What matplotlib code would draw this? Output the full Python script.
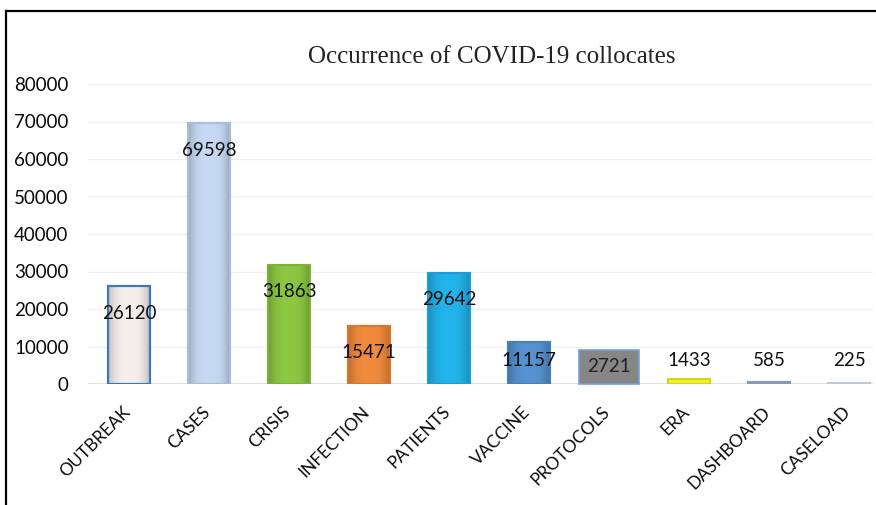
import matplotlib
matplotlib.use("Agg")
import matplotlib.pyplot as plt
from matplotlib.lines import Line2D
import matplotlib.transforms as mtransforms
import numpy as np

# DATA
categories = ["OUTBREAK", "CASES", "CRISIS", "INFECTION", "PATIENTS",
              "VACCINE", "PROTOCOLS", "ERA", "DASHBOARD", "CASELOAD"]
counts = [26120, 69598, 31863, 15471, 29642, 11157, 2721, 1433, 585, 225]
yticks = [0, 10000, 20000, 30000, 40000, 50000, 60000, 70000, 80000]
title = "Occurrence of COVID-19 collocates"

fill_colors = ["#f3efec", "#c5daf2", "#8dc641", "#f08a3c", "#22b3ea",
               "#5592cf", "#808080", "#f2f22a", "#93a7be", "#c0c8d6"]
edge_colors = ["#3c78c0", "#a9bdd6", "#7fb13a", "#d9772e", "#1b9fd3",
               "#4a80b8", "#707070", "#d6d41c", "#8799b0", "#c0c8d6"]

plt.rcParams['font.family'] = ['Lato', 'DejaVu Sans']

fig = plt.figure(figsize=(8.76, 5.05), dpi=100)
ax = fig.add_axes([88/876, 121/505, 785/876, 300/505])

x = list(range(len(categories)))
bars = ax.bar(x, counts, width=0.52, color=fill_colors, edgecolor=edge_colors,
              linewidth=1.5, zorder=3)

# soft bevel shading on the bars (lighter middle, darker sides)
prof = np.linspace(-1, 1, 64)
shade = np.zeros((1, 64, 4))
shade[0, :, 3] = 0.22 * np.abs(prof) ** 3
for b in bars:
    if b.get_height() < 2000:
        continue
    ax.imshow(shade, extent=(b.get_x(), b.get_x() + b.get_width(), 0, b.get_height()),
              aspect="auto", zorder=4, interpolation="bilinear")
    ax.add_patch(plt.Rectangle((b.get_x(), 0), b.get_width(), b.get_height(),
                               fill=False, edgecolor=b.get_edgecolor(), linewidth=1.5,
                               zorder=4.5))

ax.set_xlim(-0.5125, 9.3)
ax.set_ylim(0, 80000)
ax.set_yticks(yticks)
ax.set_yticklabels([str(t) for t in yticks], fontsize=13.5, color="#0a0a0a")
ax.set_xticks(x)
ax.set_xticklabels(categories, rotation=45, ha="right", fontsize=12.5,
                   color="#0a0a0a")
ax.tick_params(axis="y", length=0, pad=14)
ax.tick_params(axis="x", length=0, pad=14)

# nudge the slanted labels a little to the right
shift = mtransforms.ScaledTranslation(4 / fig.dpi, 0, fig.dpi_scale_trans)
for lab in ax.get_xticklabels():
    lab.set_transform(lab.get_transform() + shift)

# faint gridlines like the excel chart
for t in yticks[1:]:
    ax.axhline(t, color="#f0f0f0", linewidth=1, zorder=1)
ax.axhline(0, color="#dcdcdc", linewidth=1.2, zorder=2)

for side in ["top", "right", "left", "bottom"]:
    ax.spines[side].set_visible(False)

# data labels: inside the top of big bars, on a fixed line for short ones
px = 72.0 / fig.dpi
for i, v in enumerate(counts):
    if categories[i] == "PROTOCOLS":
        ax.annotate(str(v), xy=(i, 0), xytext=(0, 17 * px), textcoords="offset points",
                    ha="center", va="center", fontsize=13.5, color="#222222", zorder=6,
                    bbox=dict(boxstyle="square,pad=0.45", facecolor="#868686",
                              edgecolor="#6fa3dc", linewidth=1.2))
    elif v > 13300:
        ax.annotate(str(v), xy=(i, v), xytext=(0, -27 * px), textcoords="offset points",
                    ha="center", va="center", fontsize=13.5, color="#111111", zorder=6)
    else:
        ax.annotate(str(v), xy=(i, 0), xytext=(0, 23 * px), textcoords="offset points",
                    ha="center", va="center", fontsize=13.5, color="#111111", zorder=6)

fig.text(492/876, 1 - 57/505, title, ha="center", va="center",
         fontsize=18, family="Liberation Serif", color="#222222")

# frame lines around the chart
fig.add_artist(Line2D([6/876, 6/876], [0, 1 - 11/505], transform=fig.transFigure,
                      color="black", linewidth=1.6))
fig.add_artist(Line2D([6/876, 1], [1 - 11/505, 1 - 11/505], transform=fig.transFigure,
                      color="black", linewidth=1.6))

fig.savefig("out.png", dpi=100)
